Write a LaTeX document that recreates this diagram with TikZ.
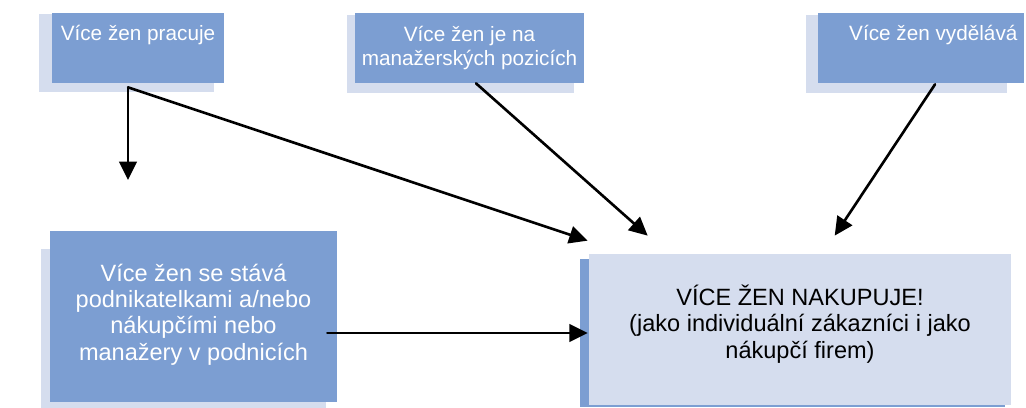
\documentclass[tikz,border=0pt]{standalone}
\usepackage{fontspec}
\setmainfont{Liberation Sans}
\usetikzlibrary{arrows.meta}
\usetikzlibrary{calc}
\definecolor{boxblue}{RGB}{124,158,210}
\definecolor{paleblue}{RGB}{213,221,238}

\begin{document}
\begin{tikzpicture}[line cap=round,line join=round,x=0.02cm,y=0.02cm,
  box/.style={rectangle,fill=boxblue,text=white,inner sep=0pt,align=center,
    font=\fontsize{11.8}{13.6}\selectfont},
  bigbox/.style={box,font=\fontsize{13.4}{15}\selectfont},
  goal/.style={bigbox,fill=paleblue,text=black},
  arr/.style={line width=1.5pt,-{Triangle[length=10.5pt,width=10pt]}}]
\useasboundingbox (0,0) rectangle (1026,408);
% back plates
\fill [paleblue] (39,316) rectangle (214,394);
\fill [paleblue] (347,315) rectangle (574,393);
\fill [paleblue] (806,315) rectangle (1007,393);
\fill [paleblue] (41,0) rectangle (326,159);
\fill [boxblue] (580,1) rectangle (1005,149);
% boxes
\node [box,minimum width=3.44cm,minimum height=1.4cm] (pracuje) at (138,360) {V\'ice \v{z}en pracuje\\[4pt]\mbox{}};
\node [box,minimum width=4.58cm,minimum height=1.4cm] (pozice) at (469.5,360) {V\'ice \v{z}en je na\\mana\v{z}ersk\'ych pozic\'ich};
\node [box,minimum width=4.12cm,minimum height=1.4cm] (vydela) at (921,360) {\hspace{14pt}V\'ice \v{z}en vyd\v{e}l\'av\'a\\[4pt]\mbox{}};
\node [bigbox,minimum width=5.74cm,minimum height=3.42cm] (podnik) at (193.5,91.5) {V\'ice \v{z}en se st\'av\'a\\podnikatelkami a/nebo\\n\'akup\v{c}\'imi nebo\\mana\v{z}ery v podnic\'ich\\[-10pt]\mbox{}};
\node [goal,minimum width=8.44cm,minimum height=3.02cm] (nakup) at (800,78.5) {V\'ICE \v{Z}EN NAKUPUJE!\\(jako individu\'aln\'i z\'akazn\'ici i jako\\n\'akup\v{c}\'i firem)\\[-6pt]\mbox{}};
% connectors
\coordinate (drop) at (128,228);
\draw [arr] ($(pracuje.south)+(-10,-4)$) -- (drop);
\draw [arr] ($(pracuje.south)+(-10,-4)$) -- ($(nakup.north west)+(-1,13)$);
\draw [arr] ($(pozice.south)+(6.5,0)$) -- ($(nakup.north west)+(59,18)$);
\draw [arr] ($(vydela.south)+(14,-1)$) -- ($(nakup.north west)+(246,18)$);
\draw [arr] ($(podnik.east)+(-10,-16.5)$) -- ($(nakup.west)+(-1,-3.5)$);
\end{tikzpicture}
\end{document}
